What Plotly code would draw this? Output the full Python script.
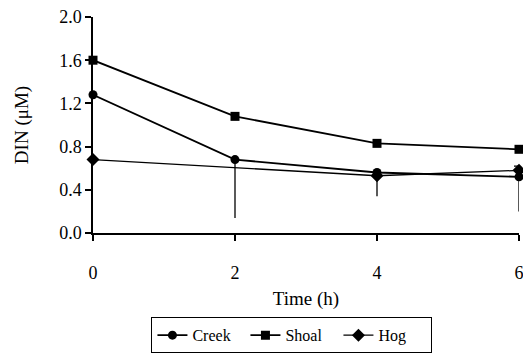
import plotly.graph_objects as go

time_creek = [0, 2, 4, 6]
creek = [1.28, 0.68, 0.56, 0.52]
creek_err_minus = [0, 0.54, 0.22, 0.32]
creek_err_plus = [0, 0, 0, 0]

time_shoal = [0, 2, 4, 6]
shoal = [1.60, 1.08, 0.83, 0.775]

time_hog = [0, 4, 6]
hog = [0.68, 0.53, 0.58]
hog_err_plus = [0, 0, 0.04]
hog_err_minus = [0, 0, 0]

x_ticks = [0, 2, 4, 6]
y_ticks = [0.0, 0.4, 0.8, 1.2, 1.6, 2.0]
y_tick_labels = ["0.0", "0.4", "0.8", "1.2", "1.6", "2.0"]

FONT = "Liberation Serif"

fig = go.Figure()
fig.add_trace(go.Scatter(
    x=time_creek, y=creek, name="Creek", mode="lines+markers",
    line=dict(color="black", width=1.8),
    marker=dict(symbol="circle", size=9, color="black"),
    error_y=dict(type="data", symmetric=False, array=creek_err_plus,
                 arrayminus=creek_err_minus, color="black", thickness=1.3, width=0),
    cliponaxis=False,
))
fig.add_trace(go.Scatter(
    x=time_shoal, y=shoal, name="Shoal", mode="lines+markers",
    line=dict(color="black", width=1.8),
    marker=dict(symbol="square", size=9, color="black"),
    cliponaxis=False,
))
fig.add_trace(go.Scatter(
    x=time_hog, y=hog, name="Hog", mode="lines+markers", xaxis="x2",
    line=dict(color="black", width=1.3),
    marker=dict(symbol="diamond", size=10, color="black"),
    error_y=dict(type="data", symmetric=False, array=hog_err_plus,
                 arrayminus=hog_err_minus, color="black", thickness=1.3, width=5),
    cliponaxis=False,
))

fig.update_layout(
    width=523, height=355,
    margin=dict(l=93, r=4, t=17, b=122, autoexpand=False),
    paper_bgcolor="white", plot_bgcolor="white",
    font=dict(family=FONT, color="black", size=18),
    showlegend=True,
    legend=dict(
        orientation="h", x=0.467, xanchor="center", y=-0.39, yanchor="top",
        bordercolor="black", borderwidth=1, font=dict(size=16, family=FONT),
        itemwidth=30, tracegroupgap=0, entrywidth=48, entrywidthmode="pixels",
    ),
    xaxis=dict(
        range=[0, 6], tickvals=x_ticks, automargin=False,
        showline=True, linecolor="black", linewidth=1.5,
        ticks="outside", ticklen=6, tickwidth=1.5, tickcolor="black",
        showgrid=False, zeroline=False, showticklabels=False,
    ),
    xaxis2=dict(
        overlaying="x", anchor="y", side="bottom", automargin=False,
        range=[0, 6], tickvals=x_ticks, ticktext=[str(v) for v in x_ticks],
        showline=False, ticks="outside", ticklen=23, tickwidth=1,
        tickcolor="rgba(0,0,0,0)", showgrid=False, zeroline=False,
        ticklabeloverflow="allow",
        tickfont=dict(size=18, family=FONT),
        title=dict(text="Time (h)", font=dict(size=19, family=FONT), standoff=10),
    ),
    yaxis=dict(
        range=[0, 2.0], tickvals=y_ticks, ticktext=y_tick_labels, automargin=False,
        showline=True, linecolor="black", linewidth=1.5,
        ticks="outside", ticklen=6, tickwidth=1.5, tickcolor="black",
        showgrid=False, zeroline=False,
        tickfont=dict(size=18, family=FONT),
        title=dict(text="DIN (μM)", font=dict(size=19, family=FONT), standoff=26),
    ),
)

fig.write_html("out.html")
